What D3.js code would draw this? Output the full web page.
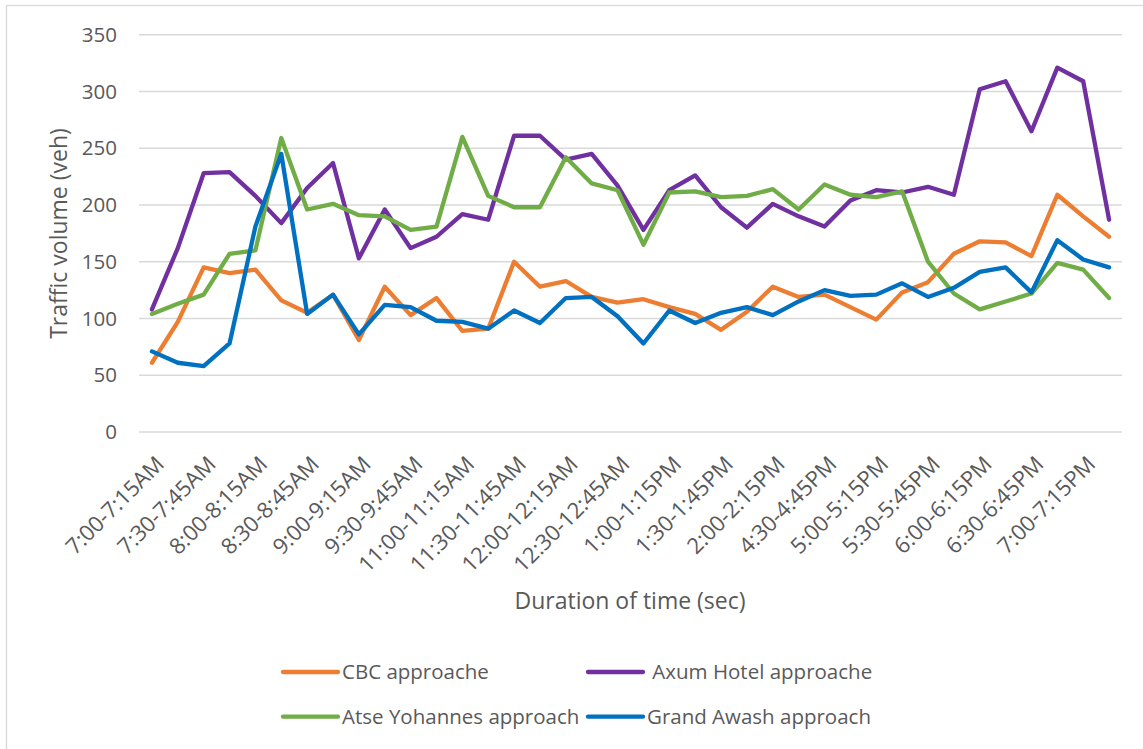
<!DOCTYPE html>
<html>
<head>
<meta charset="utf-8">
<script src="https://cdn.jsdelivr.net/npm/d3@7"></script>
<style>
  html, body { margin: 0; padding: 0; background: #fff; }
  svg { display: block; font-family: "Open Sans", "Noto Sans", sans-serif; }
</style>
</head>
<body>
<svg id="chart" width="1143" height="749"></svg>
<script>
// 15-minute counting intervals
const categories = [
  "7:00-7:15AM", "7:15-7:30AM", "7:30-7:45AM", "7:45-8:00AM",
  "8:00-8:15AM", "8:15-8:30AM", "8:30-8:45AM", "8:45-9:00AM",
  "9:00-9:15AM", "9:15-9:30AM", "9:30-9:45AM", "9:45-10:00AM",
  "11:00-11:15AM", "11:15-11:30AM", "11:30-11:45AM", "11:45-12:00AM",
  "12:00-12:15AM", "12:15-12:30AM", "12:30-12:45AM", "12:45-1:00PM",
  "1:00-1:15PM", "1:15-1:30PM", "1:30-1:45PM", "1:45-2:00PM",
  "2:00-2:15PM", "2:15-2:30PM", "4:30-4:45PM", "4:45-5:00PM",
  "5:00-5:15PM", "5:15-5:30PM", "5:30-5:45PM", "5:45-6:00PM",
  "6:00-6:15PM", "6:15-6:30PM", "6:30-6:45PM", "6:45-7:00PM",
  "7:00-7:15PM", "7:15-7:30PM"
];

// Traffic volume (veh) per approach
const cbc = [61, 97, 145, 140, 143, 116, 105, 121, 81, 128, 103, 118, 89, 91, 150, 128, 133, 119, 114, 117,
  110, 104, 90, 106, 128, 119, 121, 110, 99, 123, 132, 157, 168, 167, 155, 209, 190, 172];
const axumHotel = [108, 162, 228, 229, 208, 184, 215, 237, 153, 196, 162, 172, 192, 187, 261, 261, 240, 245, 217, 178,
  213, 226, 198, 180, 201, 190, 181, 204, 213, 211, 216, 209, 302, 309, 265, 321, 309, 187];
const atseYohannes = [104, 113, 121, 157, 160, 259, 196, 201, 191, 190, 178, 181, 260, 208, 198, 198, 242, 219, 213, 165,
  211, 212, 207, 208, 214, 196, 218, 209, 207, 212, 150, 122, 108, 115, 122, 149, 143, 118];
const grandAwash = [71, 61, 58, 78, 181, 245, 104, 121, 86, 112, 110, 98, 97, 91, 107, 96, 118, 119, 102, 78,
  107, 96, 105, 110, 103, 115, 125, 120, 121, 131, 119, 127, 141, 145, 123, 169, 152, 145];

const seriesNames = ["CBC approache", " Axum Hotel approache", "Atse Yohannes approach", "Grand Awash approach"];
const yTicks = [0, 50, 100, 150, 200, 250, 300, 350];

const series = [
  { name: seriesNames[0], values: cbc, color: "#ED7D31" },
  { name: seriesNames[1], values: axumHotel, color: "#7030A0" },
  { name: seriesNames[2], values: atseYohannes, color: "#70AD47" },
  { name: seriesNames[3], values: grandAwash, color: "#0070C0" }
];

const textColor = "#595959";
const gridColor = "#D9D9D9";

const svg = d3.select("#chart");

// chart frame
svg.append("rect")
  .attr("x", 6.5).attr("y", 5.5)
  .attr("width", 1150).attr("height", 760)
  .attr("fill", "#fff")
  .attr("stroke", gridColor)
  .attr("stroke-width", 1.3);

const plot = { left: 139, right: 1122, top: 34.7, bottom: 432 };

const x = d3.scaleBand()
  .domain(categories)
  .range([plot.left, plot.right])
  .padding(0);
const cx = c => x(c) + x.bandwidth() / 2;

const y = d3.scaleLinear()
  .domain([0, 350])
  .range([plot.bottom, plot.top]);

// horizontal gridlines
svg.append("g")
  .selectAll("line")
  .data(yTicks)
  .join("line")
  .attr("x1", plot.left).attr("x2", plot.right)
  .attr("y1", d => y(d)).attr("y2", d => y(d))
  .attr("stroke", gridColor)
  .attr("stroke-width", 1.5);

// y axis labels
const yAxis = svg.append("g")
  .attr("transform", `translate(${plot.left - 22},0)`)
  .call(d3.axisLeft(y).tickValues(yTicks).tickSize(0).tickPadding(0));
yAxis.select(".domain").remove();
yAxis.selectAll("text")
  .attr("fill", textColor)
  .style("font-size", "20.5px")
  .style("font-family", "'Open Sans', sans-serif");

// x axis: every other interval labelled, rotated
const xAxis = svg.append("g")
  .attr("transform", `translate(0,${plot.bottom})`)
  .call(d3.axisBottom(x)
    .tickValues(categories.filter((d, i) => i % 2 === 0))
    .tickSize(0));
xAxis.select(".domain").remove();
xAxis.selectAll("text")
  .attr("fill", textColor)
  .style("font-size", "22px")
  .style("font-family", "'Open Sans', sans-serif")
  .attr("text-anchor", "end")
  .attr("y", 0)
  .attr("dy", "0.35em")
  .attr("transform", "translate(8,28) rotate(-45)");

// series lines
const line = d3.line()
  .x((d, i) => cx(categories[i]))
  .y(d => y(d));

svg.append("g")
  .selectAll("path")
  .data(series)
  .join("path")
  .attr("d", s => line(s.values))
  .attr("fill", "none")
  .attr("stroke", s => s.color)
  .attr("stroke-width", 4.3)
  .attr("stroke-linejoin", "round")
  .attr("stroke-linecap", "round");

// axis titles
svg.append("text")
  .attr("x", 630).attr("y", 609)
  .attr("text-anchor", "middle")
  .attr("fill", textColor)
  .style("font-size", "23px")
  .text("Duration of time (sec)");

svg.append("text")
  .attr("transform", "translate(67,233.5) rotate(-90)")
  .attr("text-anchor", "middle")
  .attr("fill", textColor)
  .style("font-size", "23px")
  .text("Traffic volume (veh)");

// legend, two columns
const legend = svg.append("g").attr("transform", "translate(283,672)");
const item = legend.selectAll("g")
  .data(series)
  .join("g")
  .attr("transform", (d, i) => `translate(${(i % 2) * 305},${Math.floor(i / 2) * 44.7})`);
item.append("line")
  .attr("x1", 0).attr("x2", 55)
  .attr("y1", 0).attr("y2", 0)
  .attr("stroke", d => d.color)
  .attr("stroke-width", 4.3)
  .attr("stroke-linecap", "round");
item.append("text")
  .attr("x", 59).attr("y", 0)
  .attr("dy", "0.35em")
  .attr("fill", textColor)
  .style("font-size", "20.5px")
  .style("white-space", "pre")
  .text(d => d.name);
</script>
</body>
</html>
